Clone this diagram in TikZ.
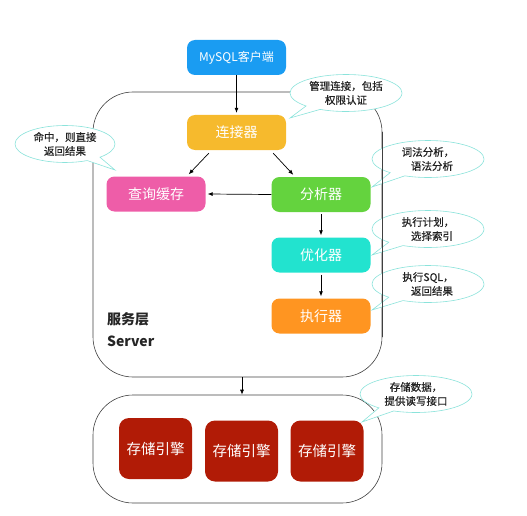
\documentclass[tikz,border=0pt]{standalone}
\usepackage{fontspec}
\newfontfamily\cjk{Noto Sans CJK SC}
\newfontfamily\cjkm[FakeBold=0.6]{Noto Sans CJK SC}
\usetikzlibrary{shapes.callouts,arrows.meta}
\definecolor{cblue}{RGB}{26,156,242}
\definecolor{cyellow}{RGB}{246,186,45}
\definecolor{cpink}{RGB}{238,93,168}
\definecolor{cgreen}{RGB}{100,211,62}
\definecolor{ccyan}{RGB}{34,227,207}
\definecolor{corange}{RGB}{255,149,33}
\definecolor{cred}{RGB}{177,27,6}
\definecolor{bubble}{RGB}{139,227,219}
\definecolor{btext}{RGB}{34,34,34}
\tikzset{
  box/.style={rounded corners=8pt, minimum width=99pt, minimum height=35pt, inner sep=0pt, text=white, font=\cjk\fontsize{14}{16}\selectfont},
  engine/.style={rounded corners=10pt, fill=cred, minimum width=73pt, minimum height=61pt, inner sep=0pt, text=white, font=\cjk\fontsize{14.5}{16}\selectfont},
  layer/.style={draw=black!75, line width=0.6pt, rounded corners=40pt, inner sep=0pt},
  bub/.style={ellipse callout, draw=bubble, fill=white, line width=0.6pt, minimum width=112pt, minimum height=37pt, inner sep=0pt, align=center, text=btext, font=\cjkm\fontsize{10.5}{14}\selectfont, callout pointer arc=18},
  arr/.style={-{Latex[length=5pt,width=4pt]}, line width=0.7pt, black}
}
\begin{document}
\begin{tikzpicture}[x=1pt,y=-1pt]
\useasboundingbox (0,0) rectangle (527,516);
% layers
\node[layer, minimum width=289pt, minimum height=285pt] (server) at (237.5,234.5) {};
\node[layer, minimum width=289pt, minimum height=108pt] (storage) at (237.5,449) {};
% boxes
\node[box, fill=cblue, font=\cjk\fontsize{12}{14}\selectfont] (client) at (236.5,57.5) {MySQL客户端};
\node[box, fill=cyellow] (conn) at (236.5,132.5) {连接器};
\node[box, fill=cpink] (cache) at (156,194) {查询缓存};
\node[box, fill=cgreen] (ana) at (321,194.5) {分析器};
\node[box, fill=ccyan] (opt) at (321,255) {优化器};
\node[box, fill=corange] (exec) at (321,316) {执行器};
% engines
\node[engine] (e1) at (155.5,448.5) {存储引擎};
\node[engine] (e2) at (241.5,451) {存储引擎};
\node[engine] (e3) at (327,451) {存储引擎};
% server label
\node[anchor=west, inner sep=0pt, text=black!85, font=\cjk\bfseries\fontsize{14}{16}\selectfont] (lbl1) at (107,319) {服务层};
\node[anchor=west, inner sep=0pt, text=black!85, font=\cjk\bfseries\fontsize{14}{16}\selectfont] (lbl2) at (107,341) {Server};
% arrows
\draw[arr] (client.south) -- ([yshift=2pt]conn.north);
\draw[arr] ([xshift=22pt,yshift=-3pt]conn.south west) -- ([xshift=-17pt,yshift=2pt]cache.north east);
\draw[arr] ([xshift=-13pt,yshift=-3pt]conn.south east) -- ([xshift=22pt,yshift=2pt]ana.north west);
\draw[arr] (ana.west) -- ([xshift=2pt]cache.east);
\draw[arr] ([yshift=-2pt]ana.south) -- ([yshift=2pt]opt.north);
\draw[arr] ([yshift=-2pt]opt.south) -- ([yshift=2pt]exec.north);
\draw[arr] ([xshift=4.5pt]server.south) -- ([xshift=4.5pt]storage.north);
% callouts
\node[bub, callout absolute pointer={(290,118)}] (b1) at (346,93) {管理连接，包括\\权限认证};
\node[bub, minimum width=100pt, callout absolute pointer={(115,170)}] (b2) at (65,144) {命中，则直接\\返回结果};
\node[bub, callout absolute pointer={(372,187)}] (b3) at (428,159) {词法分析，\\\hspace*{8pt}语法分析};
\node[bub, callout absolute pointer={(372,255)}] (b4) at (428,229) {执行计划，\\\hspace*{8pt}选择索引};
\node[bub, callout absolute pointer={(372,310)}] (b5) at (428,284) {执行SQL，\\\hspace*{8pt}返回结果};
\node[bub, callout absolute pointer={(362,422)}] (b6) at (416,394) {存储数据，\\提供读写接口};
% right edge of server layer drawn over the callouts
\draw[black!75, line width=0.6pt] ([yshift=-40pt]server.north east) -- ([yshift=40pt]server.south east);
\end{tikzpicture}
\end{document}
